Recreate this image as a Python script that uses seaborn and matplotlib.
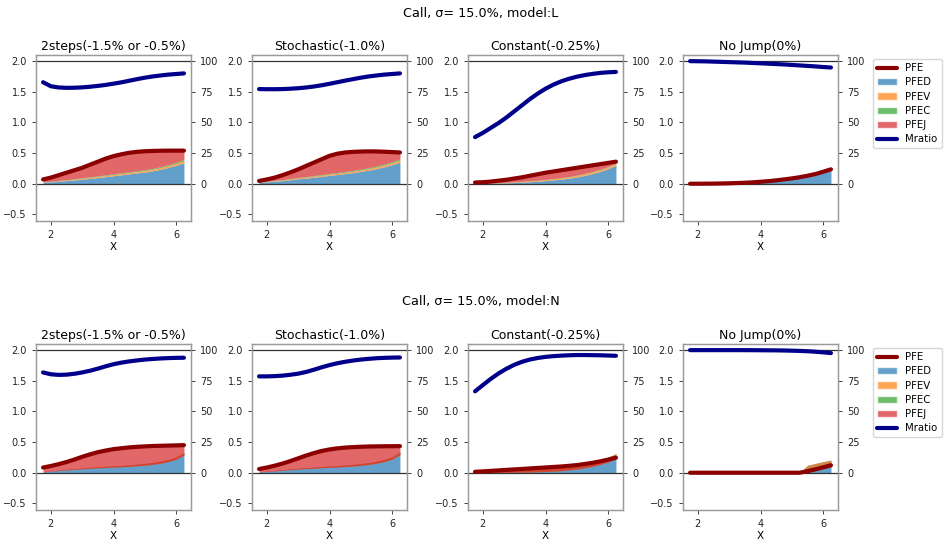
import matplotlib
matplotlib.use("Agg")
import matplotlib.pyplot as plt
from matplotlib.lines import Line2D
from matplotlib.patches import Patch
import seaborn as sns

sns.set_style("ticks")
plt.rcParams["font.family"] = ["DejaVu Sans"]
plt.rcParams["text.color"] = "black"
plt.rcParams["xtick.color"] = "#222222"
plt.rcParams["ytick.color"] = "#222222"
plt.rcParams["axes.labelcolor"] = "black"

# ---------------- data ----------------
x_vals = [1.75, 2.0, 2.25, 2.5, 2.75, 3.0, 3.25, 3.5, 3.75, 4.0, 4.25, 4.5, 4.75, 5.0, 5.25, 5.5, 5.75, 6.0, 6.25]

panel_titles = ["2steps(-1.5% or -0.5%)", "Stochastic(-1.0%)", "Constant(-0.25%)", "No Jump(0%)"]
row_titles = ["Call, σ= 15.0%, model:L", "Call, σ= 15.0%, model:N"]
series_names = ["PFE", "PFED", "PFEV", "PFEC", "PFEJ", "Mratio"]
right_ticks = [0, 25, 50, 75, 100]
left_ticks = [-0.5, 0.0, 0.5, 1.0, 1.5, 2.0]
x_ticks = [2, 4, 6]

# model L, 2steps
pfe_L_2steps = [0.07, 0.10, 0.14, 0.18, 0.22, 0.26, 0.31, 0.36, 0.41, 0.45, 0.48, 0.505, 0.52, 0.53, 0.535, 0.538, 0.54, 0.54, 0.54]
pfed_L_2steps = [0.02, 0.03, 0.04, 0.05, 0.06, 0.075, 0.085, 0.10, 0.115, 0.13, 0.145, 0.16, 0.175, 0.19, 0.21, 0.235, 0.265, 0.30, 0.34]
pfev_L_2steps = [0.005, 0.007, 0.009, 0.011, 0.013, 0.015, 0.017, 0.018, 0.019, 0.02, 0.021, 0.022, 0.023, 0.024, 0.025, 0.027, 0.029, 0.032, 0.035]
pfec_L_2steps = [0.003, 0.004, 0.005, 0.006, 0.007, 0.008, 0.009, 0.01, 0.011, 0.012, 0.012, 0.013, 0.013, 0.014, 0.015, 0.016, 0.017, 0.018, 0.02]
pfej_L_2steps = [0.042, 0.059, 0.086, 0.113, 0.14, 0.162, 0.199, 0.232, 0.265, 0.288, 0.302, 0.31, 0.309, 0.302, 0.285, 0.26, 0.229, 0.19, 0.145]
mratio_L_2steps = [82.8, 79.5, 78.5, 78.2, 78.3, 78.6, 79.1, 79.8, 80.6, 81.6, 82.7, 84.0, 85.3, 86.5, 87.5, 88.3, 89.0, 89.5, 90.0]

# model L, Stochastic
pfe_L_stoch = [0.045, 0.07, 0.10, 0.14, 0.185, 0.235, 0.29, 0.345, 0.40, 0.455, 0.49, 0.51, 0.52, 0.525, 0.528, 0.527, 0.522, 0.516, 0.51]
pfed_L_stoch = [0.02, 0.03, 0.04, 0.05, 0.065, 0.08, 0.09, 0.105, 0.12, 0.135, 0.15, 0.165, 0.18, 0.20, 0.22, 0.245, 0.275, 0.31, 0.35]
pfev_L_stoch = [0.005, 0.007, 0.009, 0.011, 0.013, 0.015, 0.017, 0.018, 0.019, 0.02, 0.021, 0.022, 0.023, 0.024, 0.025, 0.027, 0.029, 0.032, 0.035]
pfec_L_stoch = [0.003, 0.004, 0.005, 0.006, 0.007, 0.008, 0.009, 0.01, 0.011, 0.012, 0.012, 0.013, 0.013, 0.014, 0.015, 0.016, 0.017, 0.018, 0.02]
pfej_L_stoch = [0.017, 0.029, 0.046, 0.073, 0.10, 0.132, 0.174, 0.212, 0.25, 0.288, 0.307, 0.31, 0.304, 0.287, 0.268, 0.239, 0.201, 0.156, 0.105]
mratio_L_stoch = [77.2, 77.1, 77.1, 77.2, 77.5, 77.9, 78.5, 79.3, 80.3, 81.5, 82.8, 84.1, 85.3, 86.5, 87.5, 88.3, 89.0, 89.5, 90.0]

# model L, Constant
pfe_L_const = [0.02, 0.025, 0.035, 0.05, 0.065, 0.085, 0.105, 0.13, 0.155, 0.18, 0.20, 0.22, 0.24, 0.26, 0.28, 0.30, 0.32, 0.34, 0.36]
pfed_L_const = [0.002, 0.004, 0.007, 0.010, 0.014, 0.019, 0.025, 0.032, 0.040, 0.050, 0.061, 0.074, 0.089, 0.11, 0.135, 0.165, 0.20, 0.245, 0.30]
pfev_L_const = [0.002, 0.003, 0.004, 0.005, 0.006, 0.008, 0.010, 0.012, 0.014, 0.016, 0.018, 0.020, 0.022, 0.024, 0.026, 0.027, 0.028, 0.028, 0.028]
pfec_L_const = [0.001, 0.001, 0.002, 0.002, 0.003, 0.003, 0.004, 0.004, 0.005, 0.005, 0.006, 0.006, 0.007, 0.007, 0.008, 0.008, 0.008, 0.008, 0.008]
pfej_L_const = [0.015, 0.017, 0.022, 0.033, 0.042, 0.055, 0.066, 0.082, 0.096, 0.109, 0.115, 0.12, 0.122, 0.119, 0.111, 0.10, 0.084, 0.059, 0.024]
mratio_L_const = [38.0, 41.5, 45.5, 49.5, 54.0, 59.0, 64.0, 69.0, 73.5, 77.5, 80.8, 83.5, 85.6, 87.3, 88.6, 89.6, 90.4, 90.9, 91.2]

# model L, No Jump
pfe_L_nojump = [0.0, 0.0, 0.001, 0.002, 0.004, 0.007, 0.011, 0.016, 0.023, 0.032, 0.042, 0.055, 0.07, 0.087, 0.106, 0.13, 0.158, 0.195, 0.235]
pfed_L_nojump = [0.0, 0.0, 0.001, 0.002, 0.004, 0.006, 0.01, 0.014, 0.021, 0.029, 0.038, 0.05, 0.063, 0.079, 0.096, 0.117, 0.143, 0.176, 0.212]
pfev_L_nojump = [0.0, 0.0, 0.0, 0.0, 0.0, 0.001, 0.001, 0.002, 0.002, 0.003, 0.004, 0.005, 0.007, 0.008, 0.01, 0.013, 0.015, 0.019, 0.023]
pfec_L_nojump = [0.0] * 19
pfej_L_nojump = [0.0] * 19
mratio_L_nojump = [100.0, 99.9, 99.8, 99.6, 99.4, 99.2, 99.0, 98.8, 98.5, 98.2, 97.9, 97.6, 97.3, 96.9, 96.5, 96.1, 95.7, 95.2, 94.8]

# model N, 2steps
pfe_N_2steps = [0.085, 0.11, 0.14, 0.175, 0.215, 0.26, 0.30, 0.335, 0.362, 0.385, 0.40, 0.413, 0.423, 0.43, 0.436, 0.44, 0.443, 0.446, 0.45]
pfed_N_2steps = [0.018, 0.03, 0.042, 0.054, 0.066, 0.077, 0.087, 0.096, 0.105, 0.113, 0.121, 0.13, 0.14, 0.152, 0.168, 0.189, 0.217, 0.257, 0.33]
pfev_N_2steps = [-0.003, -0.005, -0.007, -0.009, -0.011, -0.013, -0.015, -0.017, -0.019, -0.021, -0.023, -0.025, -0.027, -0.029, -0.031, -0.033, -0.035, -0.037, -0.04]
pfec_N_2steps = [0.0] * 19
pfej_N_2steps = [0.07, 0.085, 0.105, 0.13, 0.16, 0.196, 0.228, 0.256, 0.276, 0.293, 0.302, 0.308, 0.31, 0.307, 0.299, 0.284, 0.261, 0.226, 0.16]
mratio_N_2steps = [81.8, 80.3, 79.8, 80.0, 80.7, 81.8, 83.2, 84.9, 86.8, 88.5, 89.8, 90.8, 91.6, 92.3, 92.8, 93.2, 93.5, 93.7, 93.8]

# model N, Stochastic
pfe_N_stoch = [0.06, 0.085, 0.115, 0.15, 0.19, 0.235, 0.28, 0.32, 0.355, 0.38, 0.398, 0.41, 0.418, 0.424, 0.428, 0.43, 0.432, 0.433, 0.434]
pfed_N_stoch = [0.015, 0.025, 0.037, 0.049, 0.061, 0.072, 0.082, 0.091, 0.1, 0.109, 0.117, 0.126, 0.136, 0.149, 0.166, 0.188, 0.217, 0.259, 0.335]
pfev_N_stoch = [-0.003, -0.005, -0.007, -0.009, -0.011, -0.013, -0.015, -0.017, -0.019, -0.021, -0.023, -0.025, -0.027, -0.029, -0.031, -0.033, -0.035, -0.037, -0.04]
pfec_N_stoch = [0.0] * 19
pfej_N_stoch = [0.048, 0.065, 0.085, 0.11, 0.14, 0.176, 0.213, 0.246, 0.274, 0.292, 0.304, 0.309, 0.309, 0.304, 0.293, 0.275, 0.25, 0.211, 0.139]
mratio_N_stoch = [78.6, 78.6, 78.8, 79.2, 79.9, 80.8, 82.2, 84.0, 86.0, 87.8, 89.3, 90.5, 91.5, 92.3, 92.9, 93.4, 93.7, 93.9, 94.0]

# model N, Constant
pfe_N_const = [0.015, 0.022, 0.03, 0.038, 0.046, 0.054, 0.062, 0.07, 0.078, 0.086, 0.094, 0.102, 0.112, 0.125, 0.142, 0.162, 0.186, 0.214, 0.245]
pfed_N_const = [0.012, 0.018, 0.026, 0.034, 0.042, 0.05, 0.058, 0.066, 0.074, 0.082, 0.09, 0.099, 0.11, 0.126, 0.148, 0.176, 0.21, 0.255, 0.31]
pfev_N_const = [-0.01, -0.015, -0.022, -0.029, -0.036, -0.042, -0.048, -0.054, -0.059, -0.063, -0.065, -0.066, -0.065, -0.066, -0.068, -0.071, -0.075, -0.08, -0.085]
pfec_N_const = [0.0] * 19
pfej_N_const = [0.013, 0.019, 0.026, 0.033, 0.04, 0.046, 0.052, 0.058, 0.063, 0.067, 0.069, 0.069, 0.067, 0.065, 0.062, 0.057, 0.051, 0.039, 0.02]
mratio_N_const = [66.4, 71.5, 76.5, 81.0, 84.8, 88.0, 90.5, 92.3, 93.6, 94.5, 95.1, 95.5, 95.8, 96.0, 96.0, 95.9, 95.8, 95.6, 95.4]

# model N, No Jump
pfe_N_nojump = [0.0, 0.0, 0.0, 0.0, 0.0, 0.0, 0.0, 0.0, 0.0, 0.0, 0.0, 0.0, 0.0, 0.0, 0.0, 0.025, 0.055, 0.088, 0.122]
pfed_N_nojump = [0.0, 0.0, 0.0, 0.0, 0.0, 0.0, 0.0, 0.0, 0.0, 0.0, 0.0, 0.0, 0.0, 0.0, 0.0, 0.12, 0.15, 0.18, 0.205]
pfev_N_nojump = [0.0, 0.0, 0.0, 0.0, 0.0, 0.0, 0.0, 0.0, 0.0, 0.0, 0.0, 0.0, 0.0, 0.0, 0.0, -0.11, -0.115, -0.115, -0.11]
pfec_N_nojump = [0.0] * 19
pfej_N_nojump = [0.0, 0.0, 0.0, 0.0, 0.0, 0.0, 0.0, 0.0, 0.0, 0.0, 0.0, 0.0, 0.0, 0.0, 0.0, 0.015, 0.02, 0.023, 0.027]
mratio_N_nojump = [100.0, 100.0, 100.0, 100.0, 100.0, 100.0, 100.0, 99.98, 99.95, 99.9, 99.85, 99.8, 99.7, 99.55, 99.35, 99.1, 98.7, 98.2, 97.6]

rows = [
    [
        (pfe_L_2steps, pfed_L_2steps, pfev_L_2steps, pfec_L_2steps, pfej_L_2steps, mratio_L_2steps),
        (pfe_L_stoch, pfed_L_stoch, pfev_L_stoch, pfec_L_stoch, pfej_L_stoch, mratio_L_stoch),
        (pfe_L_const, pfed_L_const, pfev_L_const, pfec_L_const, pfej_L_const, mratio_L_const),
        (pfe_L_nojump, pfed_L_nojump, pfev_L_nojump, pfec_L_nojump, pfej_L_nojump, mratio_L_nojump),
    ],
    [
        (pfe_N_2steps, pfed_N_2steps, pfev_N_2steps, pfec_N_2steps, pfej_N_2steps, mratio_N_2steps),
        (pfe_N_stoch, pfed_N_stoch, pfev_N_stoch, pfec_N_stoch, pfej_N_stoch, mratio_N_stoch),
        (pfe_N_const, pfed_N_const, pfev_N_const, pfec_N_const, pfej_N_const, mratio_N_const),
        (pfe_N_nojump, pfed_N_nojump, pfev_N_nojump, pfec_N_nojump, pfej_N_nojump, mratio_N_nojump),
    ],
]

# ---------------- styling ----------------
area_colors = ["#1f77b4", "#ff7f0e", "#2ca02c", "#d62728"]
pfe_color = "#8b0000"
mratio_color = "#00008b"
spine_color = "#9a9a9a"

W, H = 944, 541
fig = plt.figure(figsize=(W / 100, H / 100), dpi=100)

col_left_px = [36, 252, 468, 683]
ax_w_px = 155
row_top_px = [55, 344]
ax_h_px = 165.5
suptitle_y_px = [13, 302]

for r in range(2):
    for c in range(4):
        pfe, pfed, pfev, pfec, pfej, mratio = rows[r][c]
        left = col_left_px[c] / W
        bottom = (H - row_top_px[r] - ax_h_px) / H
        ax = fig.add_axes([left, bottom, ax_w_px / W, ax_h_px / H])
        ax.stackplot(x_vals, pfed, pfev, pfec, pfej, colors=area_colors, alpha=0.7, linewidth=0)
        ax.axhline(0.0, color="#333333", lw=0.9, zorder=3)
        ax.axhline(2.0, color="#333333", lw=0.9, zorder=3)
        sns.lineplot(x=x_vals, y=pfe, ax=ax, color=pfe_color, linewidth=3, zorder=4)
        ax.set_xlim(1.525, 6.475)
        ax.set_ylim(-0.6, 2.1)
        ax.set_yticks(left_ticks)
        ax.set_xticks(x_ticks)
        ax.set_xlabel("X", fontsize=7.5, labelpad=2)
        ax.set_ylabel("")
        ax.set_title(panel_titles[c], fontsize=9, pad=3.5)
        ax.tick_params(labelsize=7, length=3, width=0.6)

        ax2 = ax.twinx()
        sns.lineplot(x=x_vals, y=mratio, ax=ax2, color=mratio_color, linewidth=3)
        ax2.set_ylim(-30, 105)
        ax2.set_yticks(right_ticks)
        ax2.set_ylabel("")
        ax2.set_xlim(1.525, 6.475)
        ax2.tick_params(labelsize=7, length=3, width=0.6)
        for a in (ax, ax2):
            for s in a.spines.values():
                s.set_color(spine_color)
                s.set_linewidth(0.9)

    handles = [
        Line2D([0], [0], color=pfe_color, lw=3),
        Patch(facecolor=area_colors[0], alpha=0.7),
        Patch(facecolor=area_colors[1], alpha=0.7),
        Patch(facecolor=area_colors[2], alpha=0.7),
        Patch(facecolor=area_colors[3], alpha=0.7),
        Line2D([0], [0], color=mratio_color, lw=3),
    ]
    fig.legend(handles, series_names, loc="upper left",
               bbox_to_anchor=(873 / W, 1 - (row_top_px[r] + 4) / H),
               bbox_transform=fig.transFigure, borderaxespad=0,
               fontsize=7.3, labelspacing=0.42, frameon=True,
               edgecolor="#cccccc", fancybox=True)
    fig.text(481 / W, 1 - suptitle_y_px[r] / H, row_titles[r], ha="center", va="center", fontsize=9.2)

fig.savefig("out.png", dpi=100)
